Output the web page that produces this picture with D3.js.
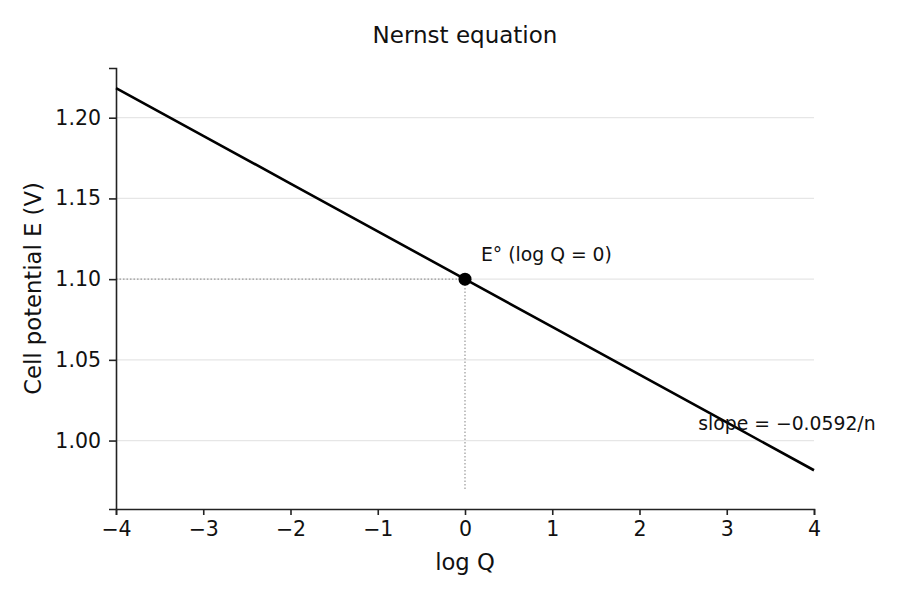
<!DOCTYPE html>
<html>
<head>
<meta charset="utf-8">
<script src="https://cdn.jsdelivr.net/npm/d3@7"></script>
<style>
  body { margin: 0; background: #fff; }
  svg { font-family: "DejaVu Sans", sans-serif; }
</style>
</head>
<body>
<svg id="chart" width="900" height="600"></svg>
<script>
// Nernst equation, n = 2: E = E° - 0.0296 log Q
const logQ = [-4, -3, -2, -1, 0, 1, 2, 3, 4];
const potential = [1.2184, 1.1888, 1.1592, 1.1296, 1.1000, 1.0704, 1.0408, 1.0112, 0.9816];
const xTicks = [-4, -3, -2, -1, 0, 1, 2, 3, 4];
const yTicks = [1.00, 1.05, 1.10, 1.15, 1.20];
const standardPoint = { q: 0, e: 1.10 };
const guideBottom = 0.97;

const W = 900, H = 600;
const margin = { top: 68, right: 86, bottom: 91, left: 116 };

const svg = d3.select("#chart");

const x = d3.scaleLinear().domain([-4, 4]).range([margin.left, W - margin.right]);
const y = d3.scaleLinear().domain([0.9576, 1.2308]).range([H - margin.bottom, margin.top]);

// grid
svg.append("g")
  .selectAll("line")
  .data(yTicks)
  .enter().append("line")
  .attr("x1", x(-4)).attr("x2", x(4))
  .attr("y1", d => y(d)).attr("y2", d => y(d))
  .attr("stroke", "#e6e6e6")
  .attr("stroke-width", 1.2);

// dotted guides to E°
const guide = svg.append("g")
  .attr("stroke", "#999")
  .attr("stroke-width", 1.2)
  .attr("stroke-dasharray", "1.5,2");
guide.append("line")
  .attr("x1", x(-4)).attr("x2", x(standardPoint.q))
  .attr("y1", y(standardPoint.e)).attr("y2", y(standardPoint.e));
guide.append("line")
  .attr("x1", x(standardPoint.q)).attr("x2", x(standardPoint.q))
  .attr("y1", y(guideBottom)).attr("y2", y(standardPoint.e));

// axes
const xAxis = svg.append("g")
  .attr("transform", `translate(0,${H - margin.bottom})`)
  .call(d3.axisBottom(x).tickValues(xTicks).tickSize(6).tickPadding(6)
    .tickFormat(d => d < 0 ? "\u2212" + Math.abs(d) : d));
const yAxis = svg.append("g")
  .attr("transform", `translate(${margin.left},0)`)
  .call(d3.axisLeft(y).tickValues(yTicks).tickSize(7).tickPadding(8)
    .tickFormat(d3.format(".2f")));

[xAxis, yAxis].forEach(a => {
  a.select(".domain").attr("stroke", "#222").attr("stroke-width", 1.6);
  a.selectAll(".tick line").attr("stroke", "#222").attr("stroke-width", 1.6);
  a.selectAll(".tick text")
    .attr("fill", "#111")
    .style("font-size", "20.5px")
    .style("font-family", "DejaVu Sans, sans-serif");
});

// line
const line = d3.line().x((d, i) => x(logQ[i])).y(d => y(d));
svg.append("path")
  .datum(potential)
  .attr("d", line)
  .attr("fill", "none")
  .attr("stroke", "#000")
  .attr("stroke-width", 2.6);

// E° marker
svg.append("circle")
  .attr("cx", x(standardPoint.q))
  .attr("cy", y(standardPoint.e))
  .attr("r", 6.5)
  .attr("fill", "#000");

// annotations
svg.append("text")
  .attr("x", x(standardPoint.q) + 16)
  .attr("y", y(standardPoint.e) - 18)
  .attr("fill", "#111")
  .style("font-size", "18.8px")
  .text("E\u00b0 (log Q = 0)");

svg.append("text")
  .attr("x", x(3.69))
  .attr("y", y(1.0))
  .attr("dy", "-0.55em")
  .attr("text-anchor", "middle")
  .attr("fill", "#111")
  .style("font-size", "18.8px")
  .text("slope = \u22120.0592/n");

// titles
svg.append("text")
  .attr("x", (margin.left + W - margin.right) / 2)
  .attr("y", 43)
  .attr("text-anchor", "middle")
  .attr("fill", "#111")
  .style("font-size", "23px")
  .text("Nernst equation");

svg.append("text")
  .attr("x", (margin.left + W - margin.right) / 2)
  .attr("y", 570)
  .attr("text-anchor", "middle")
  .attr("fill", "#111")
  .style("font-size", "22.7px")
  .text("log Q");

svg.append("text")
  .attr("transform", `translate(41,${(margin.top + H - margin.bottom) / 2}) rotate(-90)`)
  .attr("text-anchor", "middle")
  .attr("fill", "#111")
  .style("font-size", "22.7px")
  .text("Cell potential E (V)");
</script>
</body>
</html>
